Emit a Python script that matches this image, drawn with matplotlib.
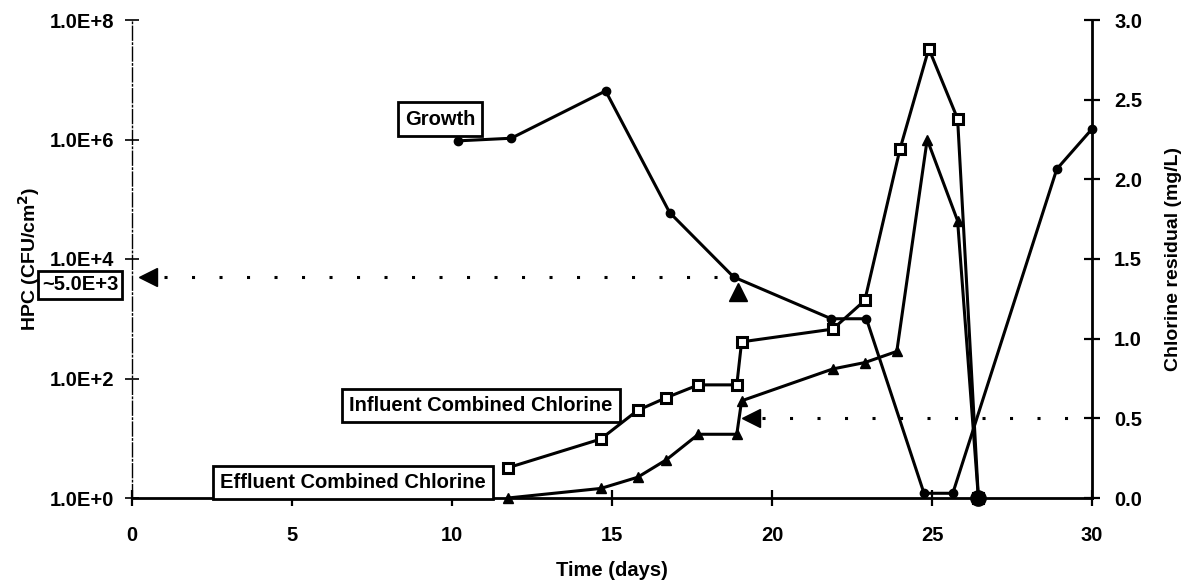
import numpy as np
import matplotlib
matplotlib.use("Agg")
import matplotlib.pyplot as plt
from matplotlib.ticker import FixedLocator, NullLocator
from matplotlib.transforms import offset_copy

plt.rcParams["font.family"] = ["Liberation Sans", "DejaVu Sans"]
plt.rcParams["font.weight"] = "bold"

# --- Heterotrophic plate count on the coupon (left, log axis) ---
growth_days = [10.2, 11.85, 14.8, 16.8, 18.8, 21.85, 22.95, 24.75, 25.65, 28.9, 30.0]
growth_hpc = [9.5e5, 1.05e6, 6.5e6, 6.0e4, 5.0e3, 1.0e3, 1.0e3, 1.2, 1.2, 3.2e5, 1.5e6]

# --- Combined chlorine residuals (right axis, mg/L) ---
infl_days = [11.75, 14.65, 15.8, 16.7, 17.7, 18.9, 19.05, 21.9, 22.9, 24.0, 24.9, 25.8, 26.45]
infl_cl = [0.19, 0.37, 0.55, 0.63, 0.71, 0.71, 0.98, 1.06, 1.24, 2.19, 2.82, 2.38, 0.0]

effl_days = [11.75, 14.65, 15.8, 16.7, 17.7, 18.9, 19.05, 21.9, 22.9, 23.9, 24.85, 25.8, 26.45]
effl_cl = [0.0, 0.06, 0.13, 0.24, 0.40, 0.40, 0.61, 0.81, 0.85, 0.92, 2.25, 1.74, 0.0]

# threshold markers
hpc_mark_day, hpc_mark_value = 18.8, 5.0e3
cl_mark_day, cl_mark_value = 19.05, 0.5

hpc_ticks = [1e0, 1e2, 1e4, 1e6, 1e8]
hpc_labels = ["1.0E+0", "1.0E+2", "1.0E+4", "1.0E+6", "1.0E+8"]
cl_ticks = [0.0, 0.5, 1.0, 1.5, 2.0, 2.5, 3.0]
day_ticks = [0, 5, 10, 15, 20, 25, 30]

FS = 14.5
LW = 2.2

fig = plt.figure(figsize=(11.82, 5.83), dpi=100)
ax = fig.add_axes([132 / 1182, 1 - 498 / 583, (1092 - 132) / 1182, (498 - 20) / 583])
ax2 = ax.twinx()

# growth line on log scale
ax.set_yscale("log")
ax.set_ylim(1, 1e8)
ax.set_xlim(0, 30)
ax.plot(growth_days, growth_hpc, color="black", lw=LW, marker="o", ms=6,
        mfc="black", mec="black", zorder=3, clip_on=False)

# chlorine lines
ax2.set_ylim(0, 3)
ax2.plot(infl_days, infl_cl, color="black", lw=LW, marker="s", ms=6.5,
         mfc="white", mec="black", mew=2.2, zorder=3, clip_on=False)
ax2.plot(effl_days, effl_cl, color="black", lw=LW, marker="^", ms=6.5,
         mfc="black", mec="black", zorder=3, clip_on=False)
ax2.plot([effl_days[-1]], [effl_cl[-1]], "o", color="black", ms=11, clip_on=False, zorder=4)

# axes styling
for a in (ax, ax2):
    a.spines["top"].set_visible(False)
ax.spines["right"].set_visible(False)
ax2.spines["left"].set_visible(False)
ax2.spines["bottom"].set_visible(False)
ax.spines["left"].set_linestyle((0, (10, 2, 1, 2)))
ax.spines["left"].set_linewidth(1.0)
ax.spines["bottom"].set_linewidth(2.0)
ax2.spines["right"].set_linewidth(2.0)

ax.yaxis.set_major_locator(FixedLocator(hpc_ticks))
ax.yaxis.set_minor_locator(NullLocator())
ax.set_yticklabels(hpc_labels)
ax.set_xticks(day_ticks)
ax.set_xticklabels([str(d) for d in day_ticks])
ax2.set_yticks(cl_ticks)
ax2.set_yticklabels([f"{v:.1f}" for v in cl_ticks])

ax.tick_params(axis="y", direction="inout", length=10, width=1.2, pad=8, labelsize=FS)
ax.tick_params(axis="x", direction="inout", length=12, width=1.6, pad=14, labelsize=FS)
ax2.tick_params(axis="y", direction="inout", length=12, width=1.6, pad=10, labelsize=FS)

ax.set_xlabel("Time (days)", fontsize=FS, fontweight="bold", labelpad=12)
ax.set_ylabel("HPC (CFU/cm$^\\mathbf{2}$)", fontsize=14, fontweight="bold", labelpad=5)
ax2.set_ylabel("Chlorine residual (mg/L)", fontsize=14, fontweight="bold", labelpad=16)

# series labels
box = dict(boxstyle="square,pad=0.35", fc="white", ec="black", lw=2.0)
ax.text(9.63, 2.2e6, "Growth", fontsize=FS, ha="center", va="center", bbox=box, zorder=5)
ax2.text(10.9, 0.58, "Influent Combined Chlorine", fontsize=FS, ha="center", va="center",
         bbox=box, zorder=5)
ax2.text(6.9, 0.095, "Effluent Combined Chlorine", fontsize=FS, ha="center", va="center",
         bbox=box, zorder=5)

# ~5.0E+3 reading on the HPC axis
ax.plot([1.0, hpc_mark_day - 0.2], [hpc_mark_value] * 2, color="black", lw=2.2,
        linestyle=(0, (1, 8)), zorder=2)
ax.plot([0.5], [hpc_mark_value], marker="<", ms=13, color="black", clip_on=False, zorder=4)
ax.annotate("~5.0E+3", xy=(0, hpc_mark_value), xytext=(-52, -8), textcoords="offset pixels",
            fontsize=FS, ha="center", va="center",
            bbox=dict(boxstyle="square,pad=0.2", fc="white", ec="black", lw=2.0),
            annotation_clip=False, zorder=6)
up_tr = offset_copy(ax.transData, fig=fig, x=4, y=-15, units="dots")
ax.plot([hpc_mark_day], [hpc_mark_value], marker="^", ms=13, color="black",
        transform=up_tr, zorder=4)

# 0.5 mg/L reading on the chlorine axis
ax2.plot([19.7, 30], [cl_mark_value] * 2, color="black", lw=2.2,
         linestyle=(0, (1, 8)), zorder=2)
left_tr = offset_copy(ax2.transData, fig=fig, x=9, y=0, units="dots")
ax2.plot([cl_mark_day], [cl_mark_value], marker="<", ms=13, color="black",
         transform=left_tr, zorder=4)

fig.savefig("out.png", dpi=100)
